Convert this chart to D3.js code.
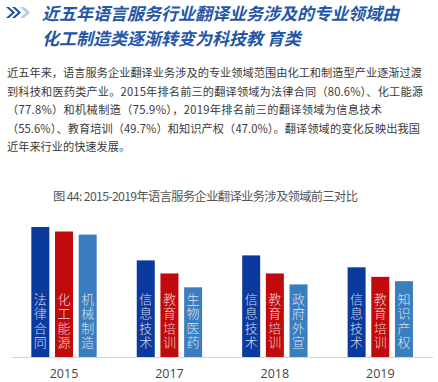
<!DOCTYPE html>
<html><head><meta charset="utf-8">
<script src="https://cdn.jsdelivr.net/npm/d3@7"></script>
<style>
html,body{margin:0;padding:0;background:#fff;}
svg{display:block;font-family:"Noto Sans CJK SC","Noto Sans",sans-serif;}
</style></head>
<body>
<script>
const years = ['2015','2017','2018','2019'];
const seriesNames = ['第一名','第二名','第三名'];
const rank1 = [80.6, 59.9, 63.0, 55.6];
const rank2 = [77.8, 51.8, 51.8, 49.7];
const rank3 = [75.9, 43.2, 45.0, 47.0];
const rank1Labels = ['法律合同','信息技术','信息技术','信息技术'];
const rank2Labels = ['化工能源','教育培训','教育培训','教育培训'];
const rank3Labels = ['机械制造','生物医药','政府外宣','知识产权'];
const titleLines = ['近五年语言服务行业翻译业务涉及的专业领域由','化工制造类逐渐转变为科技教 育类'];
const bodyLines = [
 '近五年来，语言服务企业翻译业务涉及的专业领域范围由化工和制造型产业逐渐过渡',
 '到科技和医药类产业。2015年排名前三的翻译领域为法律合同（80.6%）、化工能源',
 '（77.8%）和机械制造（75.9%），2019年排名前三的翻译领域为信息技术',
 '（55.6%）、教育培训（49.7%）和知识产权（47.0%）。翻译领域的变化反映出我国',
 '近年来行业的快速发展。'
];
const caption = '图 44: 2015-2019年语言服务企业翻译业务涉及领域前三对比';

const W = 438, H = 382;
const colors = ['#0b3a9e','#c00a0c','#3b7ec0'];
const values = [rank1, rank2, rank3];
const labels = [rank1Labels, rank2Labels, rank3Labels];

const svg = d3.select('body').append('svg').attr('width', W).attr('height', H);

// header icon
const icon = svg.append('g');
icon.append('path').attr('d','M6,7 L12,12.5 L6,18 L9,18 L15,12.5 L9,7 Z').attr('fill','#1d4fa3');
icon.append('path').attr('d','M12,7 L18,12.5 L12,18 L15,18 L21,12.5 L15,7 Z').attr('fill','#1d4fa3');
icon.append('path').attr('d','M20,7 L26,12.5 L20,18 L24,18 L30,12.5 L24,7 Z').attr('fill','#b5cbe6');

// title
svg.selectAll('text.title').data(titleLines).join('text')
  .attr('class','title')
  .attr('x', 42).attr('y', (d,i) => 20 + i*24.5)
  .attr('font-size', 17).attr('font-weight', 'bold').attr('font-style','italic')
  .attr('fill', '#2456a8')
  .text(d => d);

// body text
const bodyWidths = [415, 416, 375, 413, null];
svg.selectAll('text.body').data(bodyLines).join('text')
  .attr('class','body')
  .attr('x', 7).attr('y', (d,i) => 77 + i*18.6)
  .attr('font-size', 11.2).attr('fill', '#3a3a3a')
  .each(function(d,i){ if (bodyWidths[i]) d3.select(this).attr('textLength', bodyWidths[i]).attr('lengthAdjust','spacing'); })
  .text(d => d);

// caption
svg.append('text').attr('x', 53).attr('y', 201)
  .attr('font-family', '"Noto Sans CJK SC",sans-serif')
  .attr('font-size', 12.3).attr('fill', '#555')
  .attr('textLength', 305).attr('lengthAdjust','spacing')
  .text(caption);

// chart
const baseY = 357;
const x0 = d3.scaleBand().domain(years).range([11.3, 433]).paddingInner(0.38).paddingOuter(0.19);
const x1 = d3.scaleBand().domain(seriesNames).range([0, x0.bandwidth()]).paddingInner(0.24).paddingOuter(0);
const y = d3.scaleLinear().domain([0, 100]).range([baseY, baseY - 161.3]);

svg.append('line').attr('x1', 12).attr('x2', 433).attr('y1', baseY+0.5).attr('y2', baseY+0.5)
  .attr('stroke', '#d4d4d4').attr('stroke-width', 1.2);

const groups = svg.append('g').selectAll('g').data(years).join('g')
  .attr('transform', d => `translate(${x0(d)},0)`);

groups.each(function(yr, yi){
  const g = d3.select(this);
  seriesNames.forEach((s, si) => {
    const v = values[si][yi];
    const bx = x1(s);
    g.append('rect').attr('x', bx).attr('y', y(v))
      .attr('width', x1.bandwidth()).attr('height', baseY - y(v))
      .attr('fill', colors[si]);
    const chars = Array.from(labels[si][yi]);
    const n = chars.length;
    g.selectAll(null).data(chars).join('text')
      .attr('x', bx + x1.bandwidth()/2)
      .attr('y', (c, ci) => 341.5 - (n-1-ci)*14.3)
      .attr('text-anchor','middle').attr('dominant-baseline','central')
      .attr('font-size', 13).attr('font-weight', 300)
      .attr('fill', '#ffffff').attr('fill-opacity', 0.82)
      .text(c => c);
  });
});

// year axis labels
svg.append('g').selectAll('text').data(years).join('text')
  .attr('x', d => x0(d) + x0.bandwidth()/2)
  .attr('y', 377.5)
  .attr('text-anchor','middle').attr('font-size', 12.5).attr('fill', '#444')
  .attr('font-family', '"Open Sans","Noto Sans",sans-serif')
  .text(d => d);
</script>
</body></html>
